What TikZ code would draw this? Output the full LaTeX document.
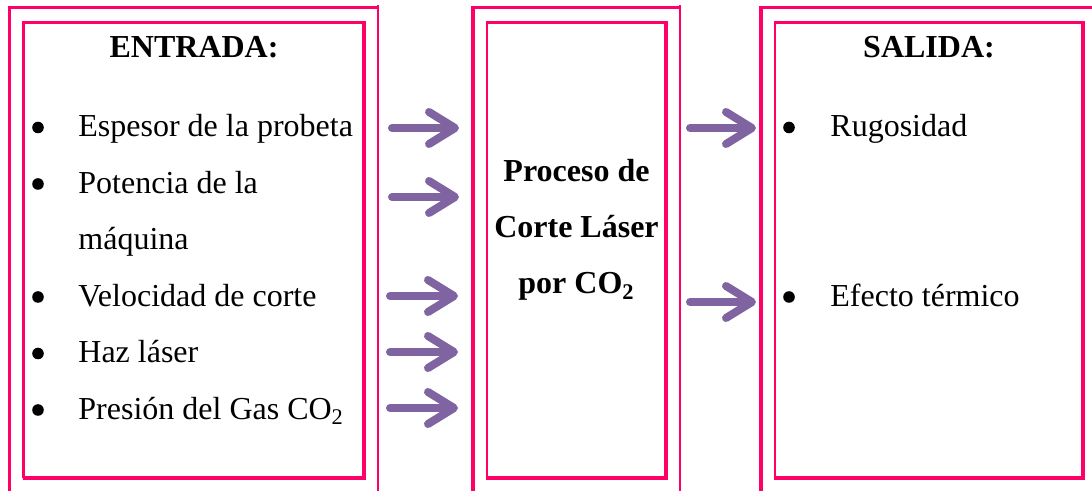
\documentclass[tikz,border=0pt]{standalone}
\usepackage{fontspec}
\setmainfont{Liberation Serif}
\usetikzlibrary{arrows.meta}
\definecolor{marco}{RGB}{255,0,102}
\definecolor{morado}{RGB}{128,100,162}
\tikzset{
    exterior/.style = {draw=marco, line width=1.75pt},
    exteriorfino/.style = {draw=marco, line width=1pt},
    fino/.style = {draw=marco, line width=1.25pt},
    grueso/.style = {draw=marco, line width=2pt},
    titulo/.style = {font=\fontsize{16}{19}\selectfont\bfseries, inner sep=0pt, anchor=base},
    texto/.style = {font=\fontsize{16}{19}\selectfont, inner sep=0pt, anchor=base west},
    vineta/.style = {circle, fill=black, inner sep=0pt, minimum size=5.8pt},
    flecha/.style = {draw=morado, line width=4pt, line cap=round, -{Straight Barb[round, length=13pt, width=16pt]}}
}

\begin{document}
\begin{tikzpicture}[x=0.5pt, y=-0.5pt]
\useasboundingbox (0,0) rectangle (1092,491);

% Marcos exteriores
\draw[exterior] (9.5,491) -- (9.5,7.5) -- (378,7.5);
\draw[exteriorfino] (378,5.5) -- (378,491);
\draw[exterior] (473,491) -- (473,7.5) -- (680,7.5);
\draw[exteriorfino] (680,5.5) -- (680,491);
\draw[exterior] (761,491) -- (761,7.5) -- (1092,7.5);

% Marcos interiores
\draw[fino] (23.5,478) -- (23.5,22.5) -- (364,22.5);
\draw[grueso] (364,21.5) -- (364,478) -- (22.5,478);
\draw[fino] (487,478) -- (487,22.5) -- (666,22.5);
\draw[grueso] (666,21.5) -- (666,478) -- (486,478);
\draw[fino] (775,478) -- (775,22.5) -- (1083,22.5);
\draw[grueso] (1083,21.5) -- (1083,478) -- (774,478);

% Entrada
\node (entrada) [titulo] at (194,58) {ENTRADA:};
\node (v1) [vineta] at (38,127.5) {};
\node (espesor) [texto] at (78,137) {Espesor de la probeta};
\node (v2) [vineta] at (38,184) {};
\node (potencia) [texto] at (78,193.5) {Potencia de la};
\node (maquina) [texto] at (78,250) {máquina};
\node (v3) [vineta] at (38,297) {};
\node (velocidad) [texto] at (78,306.5) {Velocidad de corte};
\node (v4) [vineta] at (38,353.5) {};
\node (haz) [texto] at (78,363) {Haz láser};
\node (v5) [vineta] at (38,410) {};
\node (presion) [texto] at (78,419.5) {Presión del Gas CO\textsubscript{2}};

% Proceso
\node (proc1) [titulo] at (576.5,182) {Proceso de};
\node (proc2) [titulo] at (576.5,238) {Corte Láser};
\node (proc3) [titulo] at (576.5,294) {por CO\textsubscript{2}};

% Salida
\node (salida) [titulo] at (929,58) {SALIDA:};
\node (v6) [vineta] at (789,127.5) {};
\node (rugosidad) [texto] at (830,137) {Rugosidad};
\node (v7) [vineta] at (789,297) {};
\node (efecto) [texto] at (830,306.5) {Efecto térmico};

% Flechas
\coordinate (a1) at (392,128);  \coordinate (b1) at (459,128);
\coordinate (a2) at (392,197);  \coordinate (b2) at (459,197);
\coordinate (a3) at (390,296);  \coordinate (b3) at (458,296);
\coordinate (a4) at (390,352);  \coordinate (b4) at (458,352);
\coordinate (a5) at (390,408);  \coordinate (b5) at (458,408);
\coordinate (c1) at (690,128);  \coordinate (d1) at (756,128);
\coordinate (c2) at (690,302);  \coordinate (d2) at (756,302);

\draw[flecha] (a1) -- (b1);
\draw[flecha] (a2) -- (b2);
\draw[flecha] (a3) -- (b3);
\draw[flecha] (a4) -- (b4);
\draw[flecha] (a5) -- (b5);
\draw[flecha] (c1) -- (d1);
\draw[flecha] (c2) -- (d2);

\end{tikzpicture}
\end{document}
